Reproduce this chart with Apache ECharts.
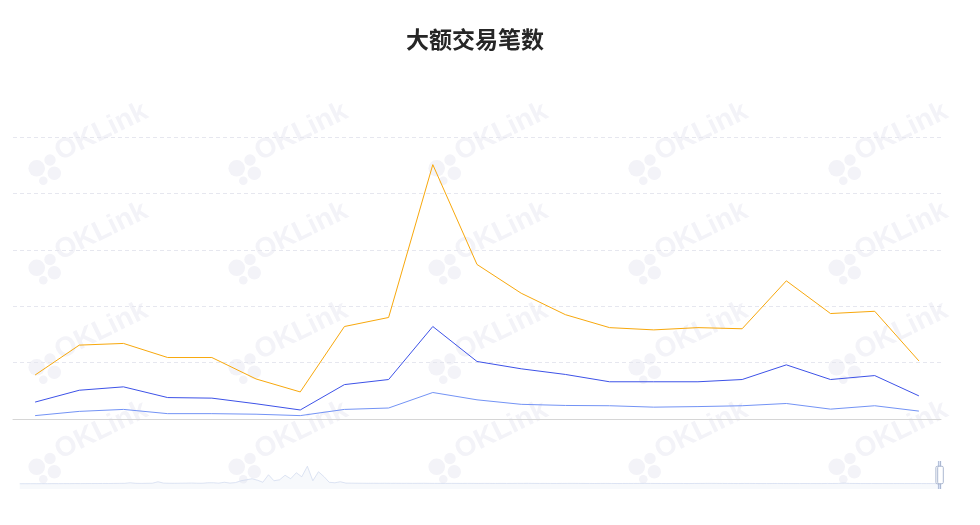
<!DOCTYPE html>
<html>
<head>
<meta charset="utf-8">
<script src="https://cdn.jsdelivr.net/npm/echarts@6/dist/echarts.min.js"></script>
<style>
html,body{margin:0;padding:0;background:#fff;}
#main{width:980px;height:525px;}
</style>
</head>
<body>
<div id="main"></div>
<script>
// ---- data ----
var titleText = '大额交易笔数';
var recentDates = ['2024-05-01','2024-05-02','2024-05-03','2024-05-04','2024-05-05','2024-05-06','2024-05-07',
  '2024-05-08','2024-05-09','2024-05-10','2024-05-11','2024-05-12','2024-05-13','2024-05-14',
  '2024-05-15','2024-05-16','2024-05-17','2024-05-18','2024-05-19','2024-05-20','2024-05-21'];
var seriesLarge = [78,131,134,109,109,71,48,164,180,451,274,223,185,162,158,162,160,245,187,191,103];
var seriesMid   = [30,51,57,38,37,27,16,61,70,164,102,89,79,66,66,66,70,96,70,77,41];
var seriesSmall = [6,13.5,17,9.5,9.5,8.5,6,17,19.5,47,34,26,24,23.5,21,22,23.5,27.5,17.5,23.5,14];
// monthly history (read from the slider's data shadow), starting 2010-07
var historyStartYear = 2010, historyStartMonth = 7;
var historyLarge = [
  60,70,90,80,100,90,120,110,130,120,
  150,140,160,180,170,200,190,220,260,300,
  600,280,250,300,350,1180,400,330,300,350,
  380,450,350,320,600,620,380,900,420,700,
  1750,2300,2900,2000,900,5170,1750,2300,4880,2900,
  6300,4030,10000,1750,6880,4030,900,600,1180,420,
  380,350,330,300,320,290,310,280,300,270,
  290,260,280,300,260,250,270,240,260,250,
  230,260,240,220,250,230,210,240,220,230,
  260,250,280,240,220,230,210,200,220,240,
  260,230,210,200,190,210,220,200,180,190,
  210,200,230,250,220,200,190,180,200,210,
  190,180,200,220,240,260,230,210,200,190,
  180,200,210,190,180,170,190,200,180,170,
  160,180,190,170,160,180,200,190,230,420,
  230,200,180,170,190,180,170,160,180,170,
  160,170,180,160,150,170
];
var yMax = 500, yInterval = 100;
var windowStart = '2024-04-30 12:00:00';
var windowEnd = '2024-05-21 12:00:00';

// ---- build ----
function pad(n){return (n<10?'0':'')+n;}
var largeData = [];
for (var k = 0; k < historyLarge.length; k++) {
  var m0 = historyStartMonth - 1 + k;
  var yy = historyStartYear + Math.floor(m0 / 12);
  var mm = m0 % 12 + 1;
  largeData.push([yy + '-' + pad(mm) + '-01', historyLarge[k]]);
}
var midData = [], smallData = [];
for (var i = 0; i < recentDates.length; i++) {
  largeData.push([recentDates[i], seriesLarge[i]]);
  midData.push([recentDates[i], seriesMid[i]]);
  smallData.push([recentDates[i], seriesSmall[i]]);
}

// watermark tiles
var wm = [];
var wmColor = '#F3F3F8';
for (var c = 0; c < 5; c++) {
  for (var r = 0; r < 4; r++) {
    var cx = 36.7 + 200 * c, cy = 168.3 + 99.5 * r;
    wm.push({type:'circle', z:-10, silent:true, shape:{cx:cx, cy:cy, r:8.3}, style:{fill:wmColor}});
    wm.push({type:'circle', z:-10, silent:true, shape:{cx:cx+13.3, cy:cy-8.3, r:5.7}, style:{fill:wmColor}});
    wm.push({type:'circle', z:-10, silent:true, shape:{cx:cx+17.6, cy:cy+5, r:6.7}, style:{fill:wmColor}});
    wm.push({type:'circle', z:-10, silent:true, shape:{cx:cx+6.6, cy:cy+12.4, r:4.3}, style:{fill:wmColor}});
    wm.push({type:'text', z:-10, silent:true, x:cx+26, y:cy-2, rotation:26*Math.PI/180,
      style:{text:'OKLink', fill:wmColor, font:'bold 28px "Liberation Sans", Arial, sans-serif',
        align:'left', verticalAlign:'bottom', textAlign:'left', textVerticalAlign:'bottom'}});
  }
}

var chart = echarts.init(document.getElementById('main'), null, {renderer:'canvas'});
chart.setOption({
  backgroundColor:'#ffffff',
  animation:false,
  title:{
    text:titleText, left:401, top:23,
    textStyle:{fontSize:23, fontWeight:'bold', color:'#262626', fontFamily:'"Noto Sans CJK SC", sans-serif'}
  },
  graphic: wm,
  grid:{left:13, right:39, top:137, bottom:106, containLabel:false},
  xAxis:{
    type:'time', min:'dataMin', max:windowEnd,
    axisLine:{show:true, lineStyle:{color:'#D6D6D6', width:1}},
    axisTick:{show:false}, axisLabel:{show:false}, splitLine:{show:false}
  },
  yAxis:{
    type:'value', min:0, max:yMax, interval:yInterval,
    axisLine:{show:false}, axisTick:{show:false}, axisLabel:{show:false},
    splitLine:{show:true, lineStyle:{type:[4,3], color:'#E6E7EF', width:1}}
  },
  dataZoom:[{
    type:'slider', xAxisIndex:0, filterMode:'filter',
    startValue:windowStart, endValue:windowEnd,
    left:17, right:41, bottom:36, height:28,
    showDetail:false, brushSelect:false,
    borderColor:'transparent', backgroundColor:'rgba(0,0,0,0)',
    fillerColor:'rgba(135,175,274,0.2)',
    dataBackground:{lineStyle:{color:'#CFD8EE', width:0.7, opacity:1}, areaStyle:{color:'#D2DBEE', opacity:0.18}},
    selectedDataBackground:{lineStyle:{color:'#C3CDEB', width:0.7}, areaStyle:{color:'#C3CDEB', opacity:0.18}},
    handleStyle:{color:'#ffffff', borderColor:'#ACB8D1'},
    moveHandleSize:7, moveHandleStyle:{color:'#D2DBEE', opacity:0.7}
  }],
  series:[
    {name:'large', type:'line', data:largeData, showSymbol:false, symbol:'none',
      lineStyle:{color:'#F8A80C', width:1}, itemStyle:{color:'#F8A80C'}, z:3},
    {name:'mid', type:'line', data:midData, showSymbol:false, symbol:'none',
      lineStyle:{color:'#3D52E8', width:1}, itemStyle:{color:'#3D52E8'}, z:3},
    {name:'small', type:'line', data:smallData, showSymbol:false, symbol:'none',
      lineStyle:{color:'#7393F5', width:1}, itemStyle:{color:'#7393F5'}, z:3}
  ]
});
</script>
</body>
</html>
